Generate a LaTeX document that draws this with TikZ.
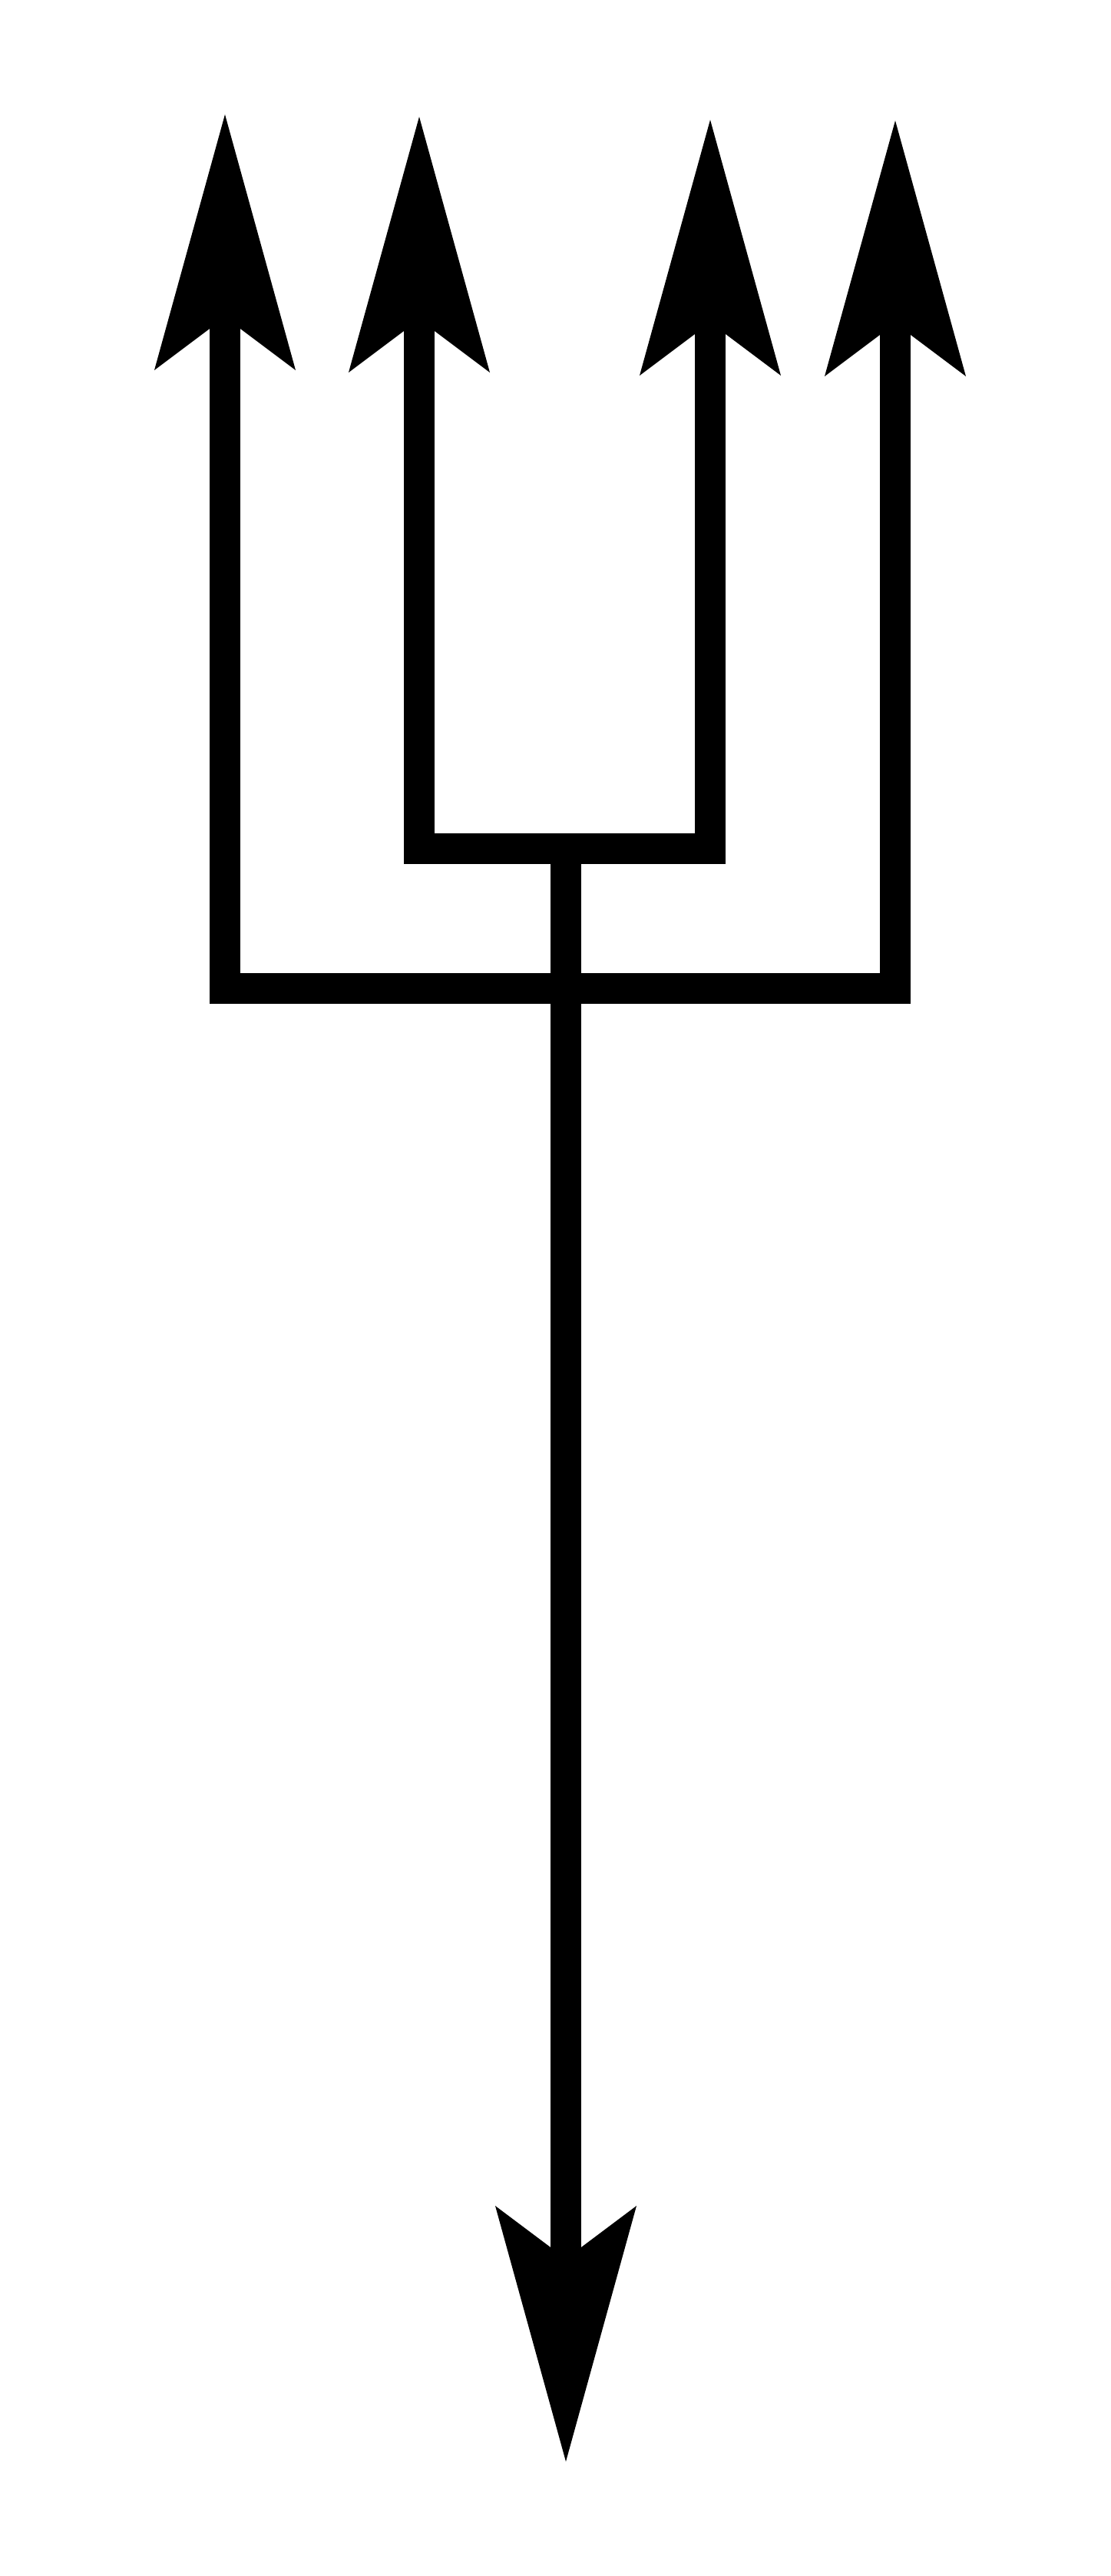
\documentclass[tikz,border=0pt]{standalone}
\usetikzlibrary{arrows.meta}

\begin{document}
\begin{tikzpicture}[
			>={Stealth[length=3.33cm,width=1.84cm,inset=0.69cm,line width=0pt]},
			prong/.style={line width=0.40cm,line join=miter}]
			
			\useasboundingbox (0,0) rectangle (14.46,-33.54);
			
			% Tips of the four prongs
			\coordinate (t1) at (2.93,-1.49);
			\coordinate (t2) at (5.46,-1.52);
			\coordinate (t3) at (9.25,-1.56);
			\coordinate (t4) at (11.66,-1.57);
			
			% Corners of the two bars
			\coordinate (ol) at (2.93,-12.87);
			\coordinate (or) at (11.66,-12.87);
			\coordinate (il) at (5.46,-11.05);
			\coordinate (ir) at (9.25,-11.05);
			
			% Handle
			\coordinate (top) at (7.37,-11.05);
			\coordinate (tip) at (7.37,-32.05);
			
			% Outer prongs
			\draw[prong,<->] (t1) -- (ol) -- (or) -- (t4);
			
			% Inner prongs
			\draw[prong,<->] (t2) -- (il) -- (ir) -- (t3);
			
			% Handle, arrow down
			\draw[prong,->] (top) -- (tip);
			
		\end{tikzpicture}
\end{document}
